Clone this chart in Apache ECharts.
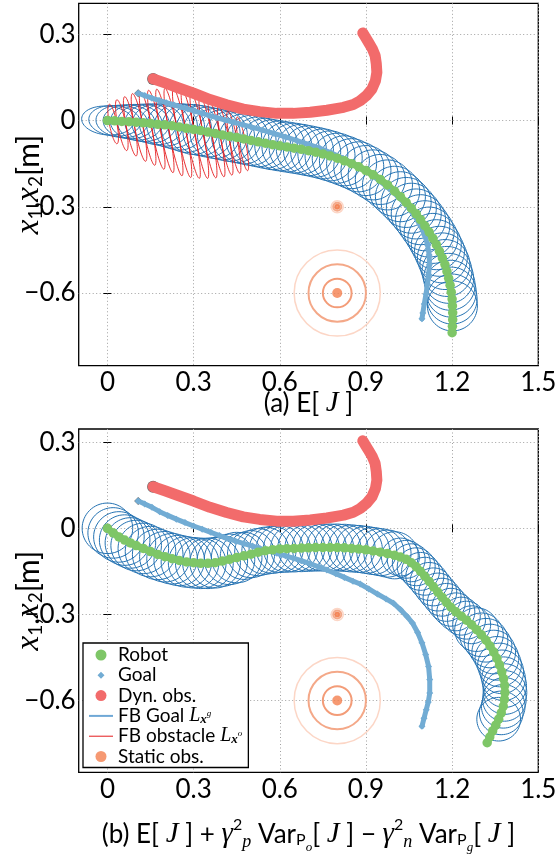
<!DOCTYPE html>
<html>
<head>
<meta charset="utf-8">
<title>Robot, goal and obstacle trajectories</title>
<script src="https://cdn.jsdelivr.net/npm/echarts@6/dist/echarts.min.js"></script>
<style>
    html, body { margin: 0; padding: 0; background: #fff; }
    #main { width: 557px; height: 854px; }
</style>
</head>
<body>
<div id="main"></div>
<script>
// ---- tick values
var xTicks = [0, 0.3, 0.6, 0.9, 1.2, 1.5];
var yTicks = [-0.6, -0.3, 0, 0.3];

// ---- dynamic obstacle path (same in both runs)
var dynObs = [[0.159,0.145],[0.2,0.131],[0.241,0.116],[0.3,0.095],[0.357,0.073],[0.415,0.055],[0.473,0.04],
    [0.53,0.031],[0.589,0.025],[0.647,0.025],[0.706,0.029],[0.764,0.036],[0.822,0.046],[0.856,0.056],
    [0.88,0.069],[0.903,0.088],[0.921,0.11],[0.933,0.138],[0.938,0.168],[0.936,0.198],[0.932,0.226],
    [0.922,0.25],[0.909,0.272],[0.898,0.29],[0.889,0.305]];

// ---- static obstacles: centre and sigma (rings at 1,2,3 sigma)
var staticObs = [[0.8,-0.3],[0.8,-0.6]];
var staticSigma = [0.007, 0.05];

// ---- (a) E[J]
var robotA = [[0,0],[0.025,-0.001],[0.05,-0.003],[0.075,-0.004],[0.1,-0.006],[0.125,-0.008],[0.15,-0.01],
    [0.175,-0.013],[0.2,-0.015],[0.225,-0.018],[0.25,-0.022],[0.275,-0.027],[0.3,-0.031],[0.325,-0.035],
    [0.35,-0.04],[0.375,-0.045],[0.4,-0.05],[0.425,-0.055],[0.45,-0.059],[0.475,-0.064],[0.5,-0.069],
    [0.525,-0.074],[0.55,-0.079],[0.575,-0.084],[0.6,-0.088],[0.625,-0.092],[0.65,-0.096],[0.675,-0.1],
    [0.7,-0.105],[0.725,-0.11],[0.75,-0.116],[0.775,-0.123],[0.8,-0.131],[0.825,-0.14],[0.85,-0.15],
    [0.875,-0.161],[0.9,-0.174],[0.925,-0.189],[0.95,-0.205],[0.975,-0.224],[1.0,-0.246],[1.02,-0.265],
    [1.04,-0.285],[1.058,-0.305],[1.075,-0.325],[1.09,-0.345],[1.105,-0.366],[1.12,-0.388],[1.133,-0.41],
    [1.145,-0.432],[1.156,-0.455],[1.166,-0.478],[1.175,-0.501],[1.182,-0.525],[1.188,-0.549],
    [1.193,-0.573],[1.197,-0.597],[1.2,-0.621],[1.201,-0.645],[1.202,-0.669],[1.202,-0.693],
    [1.201,-0.716],[1.2,-0.738]];
var goalA = [[0.107,0.095],[0.13,0.087],[0.155,0.078],[0.18,0.07],[0.205,0.062],[0.23,0.055],[0.255,0.048],
    [0.28,0.04],[0.305,0.033],[0.33,0.025],[0.355,0.017],[0.38,0.01],[0.41,0.002],[0.44,-0.006],
    [0.47,-0.014],[0.5,-0.022],[0.54,-0.033],[0.58,-0.045],[0.62,-0.057],[0.66,-0.07],[0.7,-0.083],
    [0.74,-0.097],[0.78,-0.113],[0.82,-0.131],[0.86,-0.152],[0.9,-0.176],[0.94,-0.204],[0.98,-0.236],
    [1.015,-0.268],[1.045,-0.3],[1.07,-0.333],[1.09,-0.366],[1.105,-0.4],[1.115,-0.434],[1.12,-0.468],
    [1.121,-0.502],[1.118,-0.536],[1.114,-0.57],[1.109,-0.604],[1.103,-0.638],[1.098,-0.67],[1.095,-0.69]];
// goal feedback ellipses: [rx, ry, rotation deg] for the first points, circles after
var fbGoalStartA = [[0.09,0.05,-5],[0.09,0.053,-5],[0.09,0.056,-5],[0.09,0.059,-4],[0.09,0.062,-4],
    [0.09,0.065,-3],[0.089,0.068,-3],[0.089,0.071,-2],[0.088,0.074,-2],[0.088,0.078,-1],[0.088,0.081,0],
    [0.087,0.084,0]];
var fbGoalRadA = 0.087;
var fbGoalCountA = 59;
// obstacle feedback ellipses: [cx, cy, semi-major, semi-minor]
var fbObsA = [[0.02,-0.012,0.07,0.013],[0.05,-0.016,0.09,0.014],[0.08,-0.02,0.105,0.014],[0.11,-0.024,0.12,0.015],
    [0.14,-0.028,0.13,0.015],[0.17,-0.032,0.14,0.015],[0.2,-0.036,0.148,0.015],[0.23,-0.04,0.155,0.015],
    [0.26,-0.043,0.158,0.015],[0.29,-0.047,0.157,0.015],[0.32,-0.052,0.152,0.015],[0.35,-0.057,0.145,0.015],
    [0.38,-0.063,0.135,0.014],[0.41,-0.069,0.123,0.014],[0.44,-0.075,0.11,0.013],[0.47,-0.081,0.095,0.012]];
var fbObsRotA = 11;

// ---- (b) E[J] + var terms
var robotB = [[0,0],[0.02,-0.016],[0.04,-0.03],[0.06,-0.041],[0.08,-0.051],[0.1,-0.06],[0.125,-0.07],
    [0.15,-0.081],[0.175,-0.091],[0.2,-0.099],[0.225,-0.106],[0.25,-0.112],[0.275,-0.117],[0.3,-0.12],
    [0.325,-0.122],[0.35,-0.122],[0.375,-0.12],[0.4,-0.114],[0.425,-0.108],[0.45,-0.102],[0.475,-0.096],
    [0.5,-0.09],[0.525,-0.083],[0.55,-0.078],[0.575,-0.075],[0.6,-0.072],[0.625,-0.071],[0.65,-0.07],
    [0.675,-0.069],[0.7,-0.068],[0.725,-0.067],[0.75,-0.067],[0.775,-0.067],[0.8,-0.067],[0.825,-0.068],
    [0.85,-0.07],[0.875,-0.072],[0.9,-0.075],[0.925,-0.079],[0.95,-0.083],[0.975,-0.088],[1.0,-0.094],
    [1.02,-0.1],[1.04,-0.108],[1.058,-0.12],[1.075,-0.134],[1.09,-0.15],[1.105,-0.167],[1.12,-0.185],
    [1.135,-0.204],[1.15,-0.222],[1.165,-0.24],[1.18,-0.258],[1.196,-0.275],[1.213,-0.291],[1.232,-0.306],
    [1.25,-0.32],[1.268,-0.336],[1.285,-0.353],[1.302,-0.371],[1.318,-0.39],[1.332,-0.41],[1.345,-0.431],
    [1.356,-0.453],[1.365,-0.476],[1.373,-0.5],[1.379,-0.524],[1.383,-0.548],[1.384,-0.572],[1.382,-0.596],
    [1.378,-0.62],[1.371,-0.643],[1.362,-0.665],[1.352,-0.686],[1.341,-0.706],[1.331,-0.727],[1.322,-0.747]];
var goalB = [[0.107,0.095],[0.13,0.085],[0.155,0.073],[0.182,0.058],[0.21,0.045],[0.24,0.032],[0.27,0.02],
    [0.3,0.008],[0.33,-0.003],[0.36,-0.014],[0.39,-0.025],[0.415,-0.035],[0.445,-0.044],[0.475,-0.053],
    [0.505,-0.062],[0.531,-0.07],[0.56,-0.078],[0.59,-0.087],[0.62,-0.096],[0.647,-0.104],[0.675,-0.113],
    [0.705,-0.123],[0.735,-0.134],[0.764,-0.145],[0.795,-0.158],[0.825,-0.171],[0.855,-0.184],[0.88,-0.194],
    [0.91,-0.211],[0.94,-0.229],[0.97,-0.246],[0.996,-0.261],[1.02,-0.283],[1.043,-0.307],[1.062,-0.33],
    [1.08,-0.363],[1.095,-0.399],[1.108,-0.44],[1.118,-0.481],[1.122,-0.527],[1.122,-0.574],[1.117,-0.605],
    [1.11,-0.632],[1.102,-0.662],[1.095,-0.69]];
// circle radius of goal feedback ellipses, by starting point index
var fbGoalRadB = [[0,0.088],[20,0.082],[42,0.066],[58,0.076]];
var fbGoalCountB = 73;
var fbObsB = [[0.06,-0.041,0.011,0.0025],[0.09,-0.056,0.011,0.0025],[0.12,-0.068,0.011,0.0025],
    [0.15,-0.081,0.011,0.0025],[0.18,-0.093,0.011,0.0025],[0.21,-0.102,0.011,0.0025],[0.24,-0.11,0.011,0.0025],
    [0.27,-0.116,0.011,0.0025],[0.3,-0.12,0.011,0.0025],[0.33,-0.122,0.011,0.0025],[0.36,-0.122,0.011,0.0025],
    [0.39,-0.116,0.011,0.0025],[0.42,-0.11,0.011,0.0025]];
var fbObsRotB = 25;

// ---- colours / fonts
var GREEN = '#7ec667', GOAL = '#72acd4', DYN = '#f26b6b', DARK = '#404040';
var BLUE = '#2573b3', RED = '#e41a1c', ORANGE = '#f4804f';
var RINGS = ['#f39c78', '#f4a888', '#fcd6c6'];
var SANS = 'Lato, "Open Sans", sans-serif';
var SERIF = '"Liberation Serif", "DejaVu Serif", serif';

function fmtTick(v) {
    if (Math.abs(v) < 1e-9) return '0';
    return (v < 0 ? '\u2212' : '') + Math.abs(v).toFixed(1);
}

function ellipseItem(color, width) {
    return function (params, api) {
        var cx = api.value(0), cy = api.value(1), rx = api.value(2), ry = api.value(3);
        var t = api.value(4) * Math.PI / 180, ct = Math.cos(t), st = Math.sin(t);
        var pts = [];
        for (var k = 0; k < 64; k++) {
            var a = 2 * Math.PI * k / 64;
            var dx = rx * Math.cos(a), dy = ry * Math.sin(a);
            pts.push(api.coord([cx + dx * ct - dy * st, cy + dx * st + dy * ct]));
        }
        return { type: 'polygon', shape: { points: pts }, style: { fill: null, stroke: color, lineWidth: width } };
    };
}

function ringsItem(params, api) {
    var c = api.coord([api.value(0), api.value(1)]);
    var s = api.value(2);
    var kids = [];
    for (var k = 3; k >= 1; k--) {
        var r = api.size([s * k, 0])[0];
        kids.push({ type: 'circle', shape: { cx: c[0], cy: c[1], r: r },
            style: { fill: null, stroke: RINGS[k - 1], lineWidth: k === 3 ? 1.5 : 2 } });
    }
    return { type: 'group', children: kids };
}

function goalEllipsesA() {
    return robotA.slice(0, fbGoalCountA).map(function (p, i) {
        var s = fbGoalStartA[i] || [fbGoalRadA, fbGoalRadA, 0];
        return [p[0], p[1], s[0], s[1], s[2]];
    });
}
function goalEllipsesB() {
    return robotB.slice(0, fbGoalCountB).map(function (p, i) {
        var r = fbGoalRadB[0][1];
        fbGoalRadB.forEach(function (seg) { if (i >= seg[0]) r = seg[1]; });
        return [p[0], p[1], r, r, 0];
    });
}
function obsEllipses(list, rot) {
    return list.map(function (e) { return [e[0], e[1], e[3], e[2], rot]; });
}

var tickStyle = { show: true, inside: true, length: 4, lineStyle: { color: '#000', width: 1 } };

function xAxes(g, name, gap, rich) {
    return [{
        type: 'value', gridIndex: g, min: -0.1, max: 1.5, position: 'bottom',
        axisLine: { show: false },
        axisTick: Object.assign({ customValues: xTicks }, tickStyle),
        axisLabel: { customValues: xTicks, formatter: fmtTick, color: '#000', fontFamily: SANS, fontSize: 26, margin: 4 },
        splitLine: { show: true, lineStyle: { color: '#a0a0a0', width: 1, type: [1, 2.5] } },
        name: name, nameLocation: 'middle', nameGap: gap, nameMoveOverlap: false,
        nameTextStyle: { color: '#000', fontFamily: SANS, fontSize: 25, rich: rich }
    }, {
        type: 'value', gridIndex: g, min: -0.1, max: 1.5, position: 'top',
        axisLine: { show: false },
        axisTick: Object.assign({ customValues: xTicks }, tickStyle),
        axisLabel: { show: false }, splitLine: { show: false }
    }];
}

var yNameRich = {
    i: { fontFamily: SERIF, fontStyle: 'italic', fontSize: 33, lineHeight: 40 },
    s: { fontFamily: SANS, fontSize: 19, lineHeight: 40, verticalAlign: 'bottom', padding: [0, 0, 4, 0] },
    c: { fontFamily: SANS, fontSize: 30, lineHeight: 40 }
};

function yAxes(g, min, max) {
    return [{
        type: 'value', gridIndex: g, min: min, max: max, position: 'left',
        axisLine: { show: false },
        axisTick: Object.assign({ customValues: yTicks }, tickStyle),
        axisLabel: { customValues: yTicks, formatter: fmtTick, color: '#000', fontFamily: SANS, fontSize: 26, margin: 3 },
        splitLine: { show: true, lineStyle: { color: '#a0a0a0', width: 1, type: [1, 2.5] } },
        name: '{i|x}{s|1}{c|,}{i|x}{s|2}{c|[m]}', nameLocation: 'middle', nameGap: 29, nameRotate: 90,
        nameMoveOverlap: false,
        nameTextStyle: { color: '#000', fontFamily: SANS, fontSize: 30, lineHeight: 40, rich: yNameRich }
    }, {
        type: 'value', gridIndex: g, min: min, max: max, position: 'right',
        axisLine: { show: false },
        axisTick: Object.assign({ customValues: yTicks }, tickStyle),
        axisLabel: { show: false }, splitLine: { show: false }
    }];
}

function plotSeries(ax, robot, goal, fbGoal, fbObs) {
    return [
        { type: 'line', name: 'Goal', xAxisIndex: ax, yAxisIndex: ax, data: goal,
          symbol: 'diamond', symbolSize: 7, showAllSymbol: true,
          lineStyle: { color: GOAL, width: 5, cap: 'round', join: 'round' }, itemStyle: { color: GOAL } },
        { type: 'line', name: 'Dyn. obs.', xAxisIndex: ax, yAxisIndex: ax, data: dynObs,
          symbol: 'none', lineStyle: { color: DYN, width: 11, cap: 'round', join: 'round' }, itemStyle: { color: DYN } },
        { type: 'line', name: 'Robot', xAxisIndex: ax, yAxisIndex: ax, data: robot,
          symbol: 'circle', symbolSize: 9.5, showAllSymbol: true,
          lineStyle: { color: GREEN, width: 7, cap: 'round', join: 'round' }, itemStyle: { color: GREEN } },
        { type: 'scatter', name: 'start', xAxisIndex: ax, yAxisIndex: ax, itemStyle: { color: DARK },
          data: [{ value: robot[0], symbol: 'circle', symbolSize: 9 },
                 { value: goal[0], symbol: 'diamond', symbolSize: 8 },
                 { value: dynObs[0], symbol: 'circle', symbolSize: 12 }] },
        { type: 'custom', name: 'rings', xAxisIndex: ax, yAxisIndex: ax, silent: true,
          data: staticObs.map(function (c, i) { return [c[0], c[1], staticSigma[i]]; }), renderItem: ringsItem },
        { type: 'scatter', name: 'Static obs.', xAxisIndex: ax, yAxisIndex: ax, data: staticObs,
          symbol: 'circle', symbolSize: function (v, p) { return p.dataIndex === 0 ? 5 : 10; },
          itemStyle: { color: ORANGE } },
        { type: 'custom', name: 'FB Goal', xAxisIndex: ax, yAxisIndex: ax, silent: true,
          data: fbGoal, renderItem: ellipseItem(BLUE, 1), itemStyle: { color: BLUE } },
        { type: 'custom', name: 'FB obstacle', xAxisIndex: ax, yAxisIndex: ax, silent: true,
          data: fbObs, renderItem: ellipseItem(RED, 0.9), itemStyle: { color: RED } }
    ];
}

var titleRich = {
    n: { fontFamily: SANS, fontSize: 26, lineHeight: 40 },
    j: { fontFamily: SERIF, fontStyle: 'italic', fontSize: 29, lineHeight: 40 },
    sp: { fontFamily: SANS, fontSize: 16, lineHeight: 40, verticalAlign: 'top', padding: [3, 0, 0, 0] },
    si: { fontFamily: SERIF, fontStyle: 'italic', fontSize: 18, lineHeight: 40, verticalAlign: 'bottom', padding: [0, 0, 3, 0] },
    sb: { fontFamily: SANS, fontSize: 16, lineHeight: 40, verticalAlign: 'bottom', padding: [0, 0, 6, 0] },
    ss: { fontFamily: SERIF, fontStyle: 'italic', fontSize: 13, lineHeight: 40, verticalAlign: 'bottom' }
};

var nameA = '{n|(a) E[ }{j|J}{n| ]}';
var nameB = '{n|(b) E[ }{j|J}{n| ] + }{j|\u03b3}{sp|2}{si|p}{n| Var}{sb|P}{ss|o}{n|[ }{j|J}{n| ] \u2212 }' +
            '{j|\u03b3}{sp|2}{si|n}{n| Var}{sb|P}{ss|g}{n|[ }{j|J}{n| ]}';

var legendRich = {
    L: { fontFamily: SERIF, fontStyle: 'italic', fontSize: 20, lineHeight: 20 },
    x: { fontFamily: SERIF, fontStyle: 'italic', fontWeight: 'bold', fontSize: 13, lineHeight: 20, verticalAlign: 'bottom' },
    p: { fontFamily: SERIF, fontStyle: 'italic', fontSize: 9, lineHeight: 20, verticalAlign: 'top', padding: [3, 0, 0, 0] }
};

var chart = echarts.init(document.getElementById('main'), null, { renderer: 'canvas' });
chart.setOption({
    animation: false,
    backgroundColor: '#fff',
    grid: [
        { left: 78.7, top: 3.3, width: 459.6, height: 362.4, show: true, borderColor: '#000', borderWidth: 1.3,
          containLabel: false, outerBoundsMode: 'none' },
        { left: 78.7, top: 429, width: 459.6, height: 343.3, show: true, borderColor: '#000', borderWidth: 1.3,
          containLabel: false, outerBoundsMode: 'none' }
    ],
    xAxis: xAxes(0, nameA, 18, titleRich).concat(xAxes(1, nameB, 42, titleRich)),
    yAxis: yAxes(0, -0.853, 0.408).concat(yAxes(1, -0.85, 0.346)),
    legend: {
        data: [
            { name: 'Robot', icon: 'circle' },
            { name: 'Goal', icon: 'path://M0,0h0.01v0.01z M22,22h-0.01v-0.01z M4,11L11,4L18,11L11,18Z' },
            { name: 'Dyn. obs.', icon: 'circle' },
            { name: 'FB Goal', icon: 'path://M0,0h24v2h-24z', itemStyle: { color: '#6fa8d6' } },
            { name: 'FB obstacle', icon: 'path://M0,0h24v1h-24z', itemStyle: { color: RED } },
            { name: 'Static obs.', icon: 'circle' }
        ],
        orient: 'vertical', left: 83, top: 643, itemWidth: 24, itemHeight: 11, itemGap: 0.3,
        padding: [2, 6, 1, 6], backgroundColor: '#fff', borderColor: '#000', borderWidth: 1.3, borderRadius: 0,
        selectedMode: false,
        textStyle: { color: '#000', fontFamily: SANS, fontSize: 19, lineHeight: 20, rich: legendRich },
        formatter: function (name) {
            if (name === 'FB Goal') return 'FB Goal {L|L}{x|x}{p|g}';
            if (name === 'FB obstacle') return 'FB obstacle {L|L}{x|x}{p|o}';
            return name;
        }
    },
    series: plotSeries(0, robotA, goalA, goalEllipsesA(), obsEllipses(fbObsA, fbObsRotA))
        .concat(plotSeries(2, robotB, goalB, goalEllipsesB(), obsEllipses(fbObsB, fbObsRotB)))
});
</script>
</body>
</html>
